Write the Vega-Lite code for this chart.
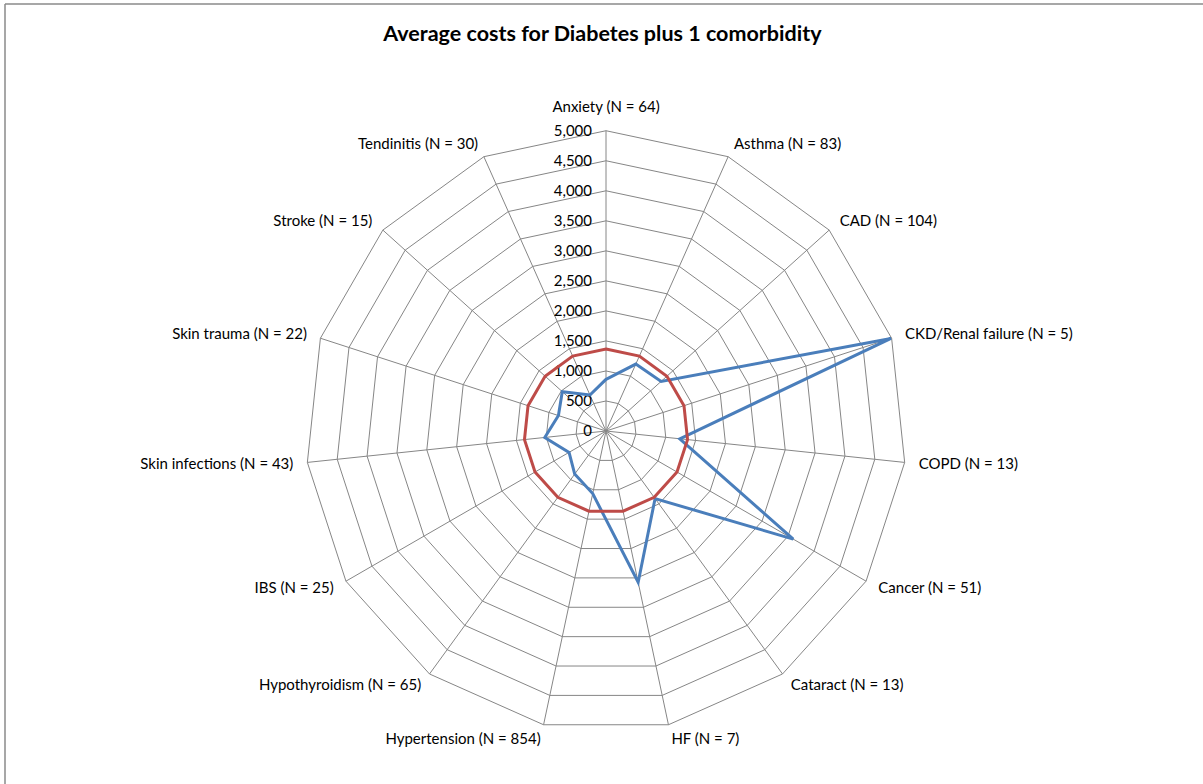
{
  "$schema": "https://vega.github.io/schema/vega-lite/v6.json",
  "width": 1198,
  "height": 780,
  "autosize": {"type": "none"},
  "padding": {"left": 5, "top": 4, "right": 0, "bottom": 0},
  "background": "white",
  "config": {
    "view": {"stroke": null},
    "text": {"font": "Lato", "fontSize": 15, "color": "#000000"}
  },
  "datasets": {
    "costs": [
      {"i": 0, "label": "Anxiety (N = 64)", "cost": 861, "average": 1365},
      {"i": 1, "label": "Asthma (N = 83)", "cost": 1220, "average": 1365},
      {"i": 2, "label": "CAD (N = 104)", "cost": 1235, "average": 1365},
      {"i": 3, "label": "CKD/Renal failure (N = 5)", "cost": 4990, "average": 1365},
      {"i": 4, "label": "COPD (N = 13)", "cost": 1235, "average": 1365},
      {"i": 5, "label": "Cancer (N = 51)", "cost": 3600, "average": 1365},
      {"i": 6, "label": "Cataract (N = 13)", "cost": 1390, "average": 1365},
      {"i": 7, "label": "HF (N = 7)", "cost": 2575, "average": 1365},
      {"i": 8, "label": "Hypertension (N = 854)", "cost": 1065, "average": 1365},
      {"i": 9, "label": "Hypothyroidism (N = 65)", "cost": 887, "average": 1365},
      {"i": 10, "label": "IBS (N = 25)", "cost": 710, "average": 1365},
      {"i": 11, "label": "Skin infections (N = 43)", "cost": 1025, "average": 1365},
      {"i": 12, "label": "Skin trauma (N = 22)", "cost": 833, "average": 1365},
      {"i": 13, "label": "Stroke (N = 15)", "cost": 980, "average": 1365},
      {"i": 14, "label": "Tendinitis (N = 30)", "cost": 657, "average": 1365}
    ],
    "rings": [
      {"level": 500, "i": [0,1,2,3,4,5,6,7,8,9,10,11,12,13,14]},
      {"level": 1000, "i": [0,1,2,3,4,5,6,7,8,9,10,11,12,13,14]},
      {"level": 1500, "i": [0,1,2,3,4,5,6,7,8,9,10,11,12,13,14]},
      {"level": 2000, "i": [0,1,2,3,4,5,6,7,8,9,10,11,12,13,14]},
      {"level": 2500, "i": [0,1,2,3,4,5,6,7,8,9,10,11,12,13,14]},
      {"level": 3000, "i": [0,1,2,3,4,5,6,7,8,9,10,11,12,13,14]},
      {"level": 3500, "i": [0,1,2,3,4,5,6,7,8,9,10,11,12,13,14]},
      {"level": 4000, "i": [0,1,2,3,4,5,6,7,8,9,10,11,12,13,14]},
      {"level": 4500, "i": [0,1,2,3,4,5,6,7,8,9,10,11,12,13,14]},
      {"level": 5000, "i": [0,1,2,3,4,5,6,7,8,9,10,11,12,13,14]}
    ],
    "ticks": [
      {"level": 0}, {"level": 500}, {"level": 1000}, {"level": 1500}, {"level": 2000},
      {"level": 2500}, {"level": 3000}, {"level": 3500}, {"level": 4000}, {"level": 4500}, {"level": 5000}
    ],
    "frame": [{"edge": "left"}, {"edge": "top"}],
    "titles": [{"title": "Average costs for Diabetes plus 1 comorbidity"}]
  },
  "encoding": {
    "x": {"field": "x", "type": "quantitative", "scale": {"domain": [-10007, 9940], "nice": false, "zero": false}, "axis": null},
    "y": {"field": "y", "type": "quantitative", "scale": {"domain": [-5877, 7110], "nice": false, "zero": false}, "axis": null}
  },
  "layer": [
    {
      "data": {"name": "frame"},
      "transform": [
        {"calculate": "-10007", "as": "x"},
        {"calculate": "datum.edge == 'left' ? -10007 : 9940", "as": "x2"},
        {"calculate": "7110", "as": "y"},
        {"calculate": "datum.edge == 'left' ? -5877 : 7110", "as": "y2"}
      ],
      "mark": {"type": "rule", "stroke": "#8a8a8a", "strokeWidth": 1.5},
      "encoding": {
        "x2": {"field": "x2"},
        "y2": {"field": "y2"}
      }
    },
    {
      "data": {"name": "rings"},
      "transform": [
        {"flatten": ["i"]},
        {"calculate": "datum.i * 2 * PI / 15", "as": "a"},
        {"calculate": "datum.level * sin(datum.a)", "as": "x"},
        {"calculate": "datum.level * cos(datum.a)", "as": "y"}
      ],
      "mark": {"type": "line", "interpolate": "linear-closed", "stroke": "#868686", "strokeWidth": 1},
      "encoding": {
        "detail": {"field": "level", "type": "nominal"},
        "order": {"field": "i", "type": "quantitative"}
      }
    },
    {
      "data": {"name": "costs"},
      "transform": [
        {"calculate": "datum.i * 2 * PI / 15", "as": "a"},
        {"calculate": "5000 * sin(datum.a)", "as": "x"},
        {"calculate": "5000 * cos(datum.a)", "as": "y"}
      ],
      "mark": {"type": "rule", "stroke": "#868686", "strokeWidth": 1},
      "encoding": {
        "x2": {"datum": 0},
        "y2": {"datum": 0}
      }
    },
    {
      "data": {"name": "ticks"},
      "transform": [
        {"calculate": "0", "as": "x"},
        {"calculate": "datum.level", "as": "y"},
        {"calculate": "format(datum.level, ',')", "as": "txt"}
      ],
      "mark": {"type": "text", "align": "right", "baseline": "middle", "dx": -14},
      "encoding": {"text": {"field": "txt"}}
    },
    {
      "data": {"name": "costs"},
      "transform": [
        {"fold": ["cost", "average"], "as": ["series", "val"]},
        {"calculate": "datum.i * 2 * PI / 15", "as": "a"},
        {"calculate": "datum.val * sin(datum.a)", "as": "x"},
        {"calculate": "datum.val * cos(datum.a)", "as": "y"}
      ],
      "mark": {"type": "line", "interpolate": "linear-closed", "strokeWidth": 3, "strokeJoin": "miter"},
      "encoding": {
        "color": {"field": "series", "type": "nominal", "scale": {"domain": ["cost", "average"], "range": ["#4A7EBB", "#BE4B48"]}, "legend": null},
        "detail": {"field": "series", "type": "nominal"},
        "order": {"field": "i", "type": "quantitative"}
      }
    },
    {
      "data": {"name": "costs"},
      "transform": [
        {"filter": "datum.i >= 1 && datum.i <= 7"},
        {"calculate": "datum.i * 2 * PI / 15", "as": "a"},
        {"calculate": "5235 * sin(datum.a)", "as": "x"},
        {"calculate": "5235 * cos(datum.a)", "as": "y"}
      ],
      "mark": {"type": "text", "align": "left", "baseline": "middle"},
      "encoding": {"text": {"field": "label"}}
    },
    {
      "data": {"name": "costs"},
      "transform": [
        {"filter": "datum.i >= 8"},
        {"calculate": "datum.i * 2 * PI / 15", "as": "a"},
        {"calculate": "5235 * sin(datum.a)", "as": "x"},
        {"calculate": "5235 * cos(datum.a)", "as": "y"}
      ],
      "mark": {"type": "text", "align": "right", "baseline": "middle"},
      "encoding": {"text": {"field": "label"}}
    },
    {
      "data": {"name": "costs"},
      "transform": [
        {"filter": "datum.i == 0"},
        {"calculate": "0", "as": "x"},
        {"calculate": "5235", "as": "y"}
      ],
      "mark": {"type": "text", "align": "center", "baseline": "bottom", "dy": -2},
      "encoding": {"text": {"field": "label"}}
    },
    {
      "data": {"name": "titles"},
      "transform": [
        {"calculate": "-60", "as": "x"},
        {"calculate": "6594", "as": "y"}
      ],
      "mark": {"type": "text", "align": "center", "baseline": "middle", "fontSize": 21.5, "fontWeight": "bold"},
      "encoding": {"text": {"field": "title"}}
    }
  ]
}
